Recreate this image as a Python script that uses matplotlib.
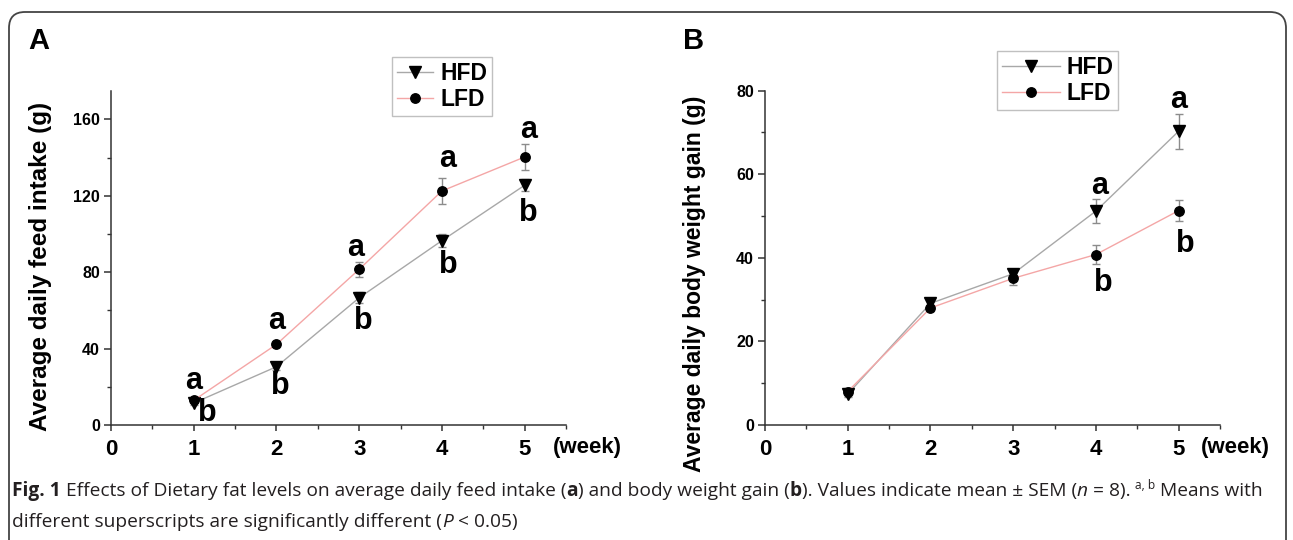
import matplotlib
matplotlib.use("Agg")
import matplotlib.pyplot as plt
from matplotlib.patches import FancyBboxPatch
from matplotlib.ticker import MultipleLocator
from matplotlib.font_manager import FontProperties

# ---------------- data ----------------
weeks = [1, 2, 3, 4, 5]
week_ticks = [0, 1, 2, 3, 4, 5]
series_names = ["HFD", "LFD"]

feed_hfd = [11.5, 30.5, 66.6, 96.5, 125.5]
feed_hfd_sem = [1.0, 1.5, 2.8, 3.5, 3.2]
feed_lfd = [12.9, 42.2, 81.5, 122.5, 140.3]
feed_lfd_sem = [1.0, 1.0, 4.0, 6.8, 7.0]

gain_hfd = [7.4, 29.1, 36.2, 51.2, 70.3]
gain_hfd_sem = [0.8, 1.0, 1.2, 2.8, 4.2]
gain_lfd = [8.0, 28.0, 35.1, 40.8, 51.3]
gain_lfd_sem = [0.8, 0.8, 1.5, 2.2, 2.5]

# significance letters (letter, x in weeks, baseline y in data units)
feed_letters = [("a", 1.0, 18.8), ("b", 1.165, 1.9),
                ("a", 2.0, 50.1), ("b", 2.05, 16.2),
                ("a", 2.96, 88.4), ("b", 3.05, 50.1),
                ("a", 4.07, 135.0), ("b", 4.08, 79.7),
                ("a", 5.05, 150.2), ("b", 5.05, 106.7)]
gain_letters = [("a", 4.04, 55.3), ("b", 4.09, 32.1),
                ("a", 5.0, 75.8), ("b", 5.08, 41.3)]

ylabel_a = "Average daily feed intake (g)"
ylabel_b = "Average daily body weight gain (g)"
xunit = "(week)"

# ---------------- figure ----------------
W, H = 1293, 540
fig = plt.figure(figsize=(W / 100, H / 100), dpi=100)
fig.patch.set_facecolor("white")

def fx(x):
    return x / W

def fy(y):
    return 1 - y / H

FONT = ["Liberation Sans", "DejaVu Sans"]
HFD_COLOR = "#a8a8a8"
LFD_COLOR = "#f4a6a6"
SPINE = "#333333"

# rounded border
border = FancyBboxPatch((0.09, -0.3), 12.77, 5.58,
                        boxstyle="round,pad=0,rounding_size=0.16",
                        transform=fig.dpi_scale_trans, facecolor="none",
                        edgecolor="#444444", linewidth=1.3, zorder=0)
fig.patches.append(border)


def make_axes(left_px, ymax, major, minor):
    ax = fig.add_axes([fx(left_px), fy(425), (455) / W, (425 - 90.7) / H])
    ax.set_xlim(0, 5.5)
    ax.set_ylim(0, ymax)
    for s in ["top", "right"]:
        ax.spines[s].set_visible(False)
    for s in ["left", "bottom"]:
        ax.spines[s].set_color(SPINE)
        ax.spines[s].set_linewidth(1.1)
    ax.set_xticks(week_ticks)
    ax.xaxis.set_minor_locator(MultipleLocator(0.5))
    ax.yaxis.set_major_locator(MultipleLocator(major))
    ax.yaxis.set_minor_locator(MultipleLocator(minor))
    ax.tick_params(axis="x", which="major", direction="out", length=4,
                   width=1.1, color=SPINE, pad=6, labelsize=16)
    ax.tick_params(axis="x", which="minor", direction="out", length=3,
                   width=1.0, color=SPINE)
    ax.tick_params(axis="y", which="major", direction="out", length=5,
                   width=1.1, color=SPINE, pad=3, labelsize=11.5)
    ax.tick_params(axis="y", which="minor", direction="out", length=3,
                   width=1.0, color=SPINE)
    for lab in ax.get_xticklabels() + ax.get_yticklabels():
        lab.set_fontfamily(FONT)
        lab.set_fontweight("bold")
    return ax


def draw_panel(ax, hfd, hfd_sem, lfd, lfd_sem, letters):
    ax.errorbar(weeks, hfd, yerr=hfd_sem, fmt="none", ecolor="#8c8c8c",
                elinewidth=1.0, capsize=3, capthick=1.0, zorder=2)
    ax.errorbar(weeks, lfd, yerr=lfd_sem, fmt="none", ecolor="#8c8c8c",
                elinewidth=1.0, capsize=3, capthick=1.0, zorder=2)
    h, = ax.plot(weeks, hfd, color=HFD_COLOR, lw=1.0, marker="v", ms=8,
                 mfc="black", mec="black", zorder=3, label=series_names[0])
    l, = ax.plot(weeks, lfd, color=LFD_COLOR, lw=1.0, marker="o", ms=6.8,
                 mfc="black", mec="black", zorder=4, label=series_names[1])
    for letter, x, y in letters:
        ax.text(x, y, letter, ha="center", va="baseline", fontsize=22,
                fontweight="bold", family=FONT, color="black", zorder=5)
    return h, l


axA = make_axes(111, 175, 40, 20)
hA, lA = draw_panel(axA, feed_hfd, feed_hfd_sem, feed_lfd, feed_lfd_sem, feed_letters)
axB = make_axes(765, 80, 20, 10)
hB, lB = draw_panel(axB, gain_hfd, gain_hfd_sem, gain_lfd, gain_lfd_sem, gain_letters)

leg_prop = FontProperties(family=FONT, weight="bold", size=16.5)
for ax, h, l, x0, y0, hl in [(axA, hA, lA, 392, 57, 1.6), (axB, hB, lB, 997, 51, 2.55)]:
    leg = ax.legend([h, l], series_names, loc="upper left",
                    bbox_to_anchor=(fx(x0), fy(y0)), bbox_transform=fig.transFigure,
                    borderaxespad=0, frameon=True, fancybox=False, framealpha=1,
                    edgecolor="#c0c0c0", prop=leg_prop, handlelength=hl,
                    handletextpad=0.3, borderpad=0.2, labelspacing=0.15, numpoints=1)
    leg.get_frame().set_linewidth(1.0)

# x unit labels
fig.text(fx(553), fy(447), xunit, ha="left", va="center", fontsize=16,
         fontweight="bold", family=FONT)
fig.text(fx(1201), fy(447), xunit, ha="left", va="center", fontsize=16,
         fontweight="bold", family=FONT)

# y labels
fig.text(fx(41), fy(266), ylabel_a, rotation=90, ha="center", va="center",
         fontsize=17.5, fontweight="bold", family=FONT)
fig.text(fx(694), fy(284), ylabel_b, rotation=90, ha="center", va="center",
         fontsize=16.5, fontweight="bold", family=FONT)

# panel letters
fig.text(fx(28), fy(49), "A", ha="left", va="baseline", fontsize=21,
         fontweight="bold", family=FONT)
fig.text(fx(683), fy(49), "B", ha="left", va="baseline", fontsize=21,
         fontweight="bold", family=FONT)

# ---------------- caption ----------------
CAP_FONT = ["Open Sans", "DejaVu Sans"]
CAP_COLOR = "#231f20"
line1 = [("Fig. 1", "bold", "normal", False),
         (" Effects of Dietary fat levels on average daily feed intake (", "normal", "normal", False),
         ("a", "bold", "normal", False),
         (") and body weight gain (", "normal", "normal", False),
         ("b", "bold", "normal", False),
         ("). Values indicate mean \u00b1 SEM (", "normal", "normal", False),
         ("n", "normal", "italic", False),
         (" = 8). ", "normal", "normal", False),
         ("a, b", "normal", "normal", True),
         (" Means with", "normal", "normal", False)]
line2 = [("different superscripts are significantly different (", "normal", "normal", False),
         ("P", "normal", "italic", False),
         (" < 0.05)", "normal", "normal", False)]

renderer = fig.canvas.get_renderer()


def text_w(s, size, weight, style):
    fp = FontProperties(family=CAP_FONT, weight=weight, style=style, size=size)
    t = fig.text(0, 0, "I" + s + "I", fontproperties=fp)
    w1 = t.get_window_extent(renderer).width
    t.remove()
    t = fig.text(0, 0, "II", fontproperties=fp)
    w2 = t.get_window_extent(renderer).width
    t.remove()
    return w1 - w2


def draw_line(segs, x0, ybase, size):
    x = x0
    made = []
    for s, wt, st, sup in segs:
        sz = size * (0.62 if sup else 1)
        stripped = s.lstrip(" ")
        lead = s[: len(s) - len(stripped)]
        off = text_w(lead, sz, wt, st) if lead else 0
        y = ybase - (7 if sup else 0)
        if stripped.strip():
            t = fig.text(fx(x + off), fy(y), stripped, ha="left", va="baseline",
                         fontproperties=FontProperties(family=CAP_FONT, weight=wt,
                                                       style=st, size=sz),
                         color=CAP_COLOR)
            made.append(t)
        x += text_w(s, sz, wt, st)
    return made

target_right = 1268
size = 11.0
for _ in range(3):
    made = draw_line(line1, 12, 496, size)
    right = made[-1].get_window_extent(renderer).x1
    for t in made:
        t.remove()
    size *= (target_right - 12) / (right - 12)

draw_line(line1, 12, 496, size)
draw_line(line2, 12, 527, size)

fig.savefig("out.png", dpi=100, facecolor="white")
